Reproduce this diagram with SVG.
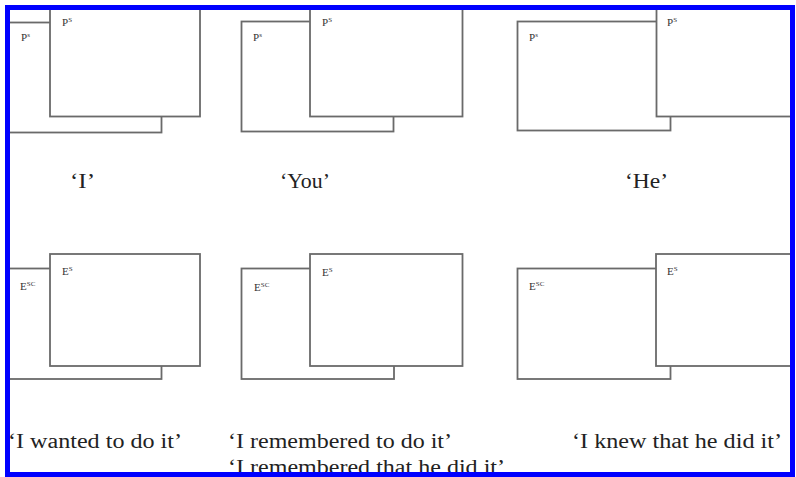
<svg xmlns="http://www.w3.org/2000/svg" width="796" height="477" viewBox="0 0 796 477">
  <style>
    .box { fill: #ffffff; stroke: #6a6a6a; stroke-width: 1.8; }
    .lbl { font-family: "Liberation Serif", serif; font-size: 11px; fill: #333; }
    .sup { font-size: 7px; }
    .cap { font-family: "Liberation Serif", serif; font-size: 20px; fill: #222; }
  </style>
  <defs>
    <clipPath id="inner">
      <rect x="10" y="10" width="780" height="462"/>
    </clipPath>
  </defs>
  <rect x="0" y="0" width="796" height="477" fill="#ffffff"/>

  <g clip-path="url(#inner)">
    <!-- top row: person frames -->
    <g id="panel-i">
      <rect class="box" x="-20" y="22.5" width="181.5" height="110"/>
      <text class="lbl" x="21" y="41">P<tspan class="sup" dy="-4">s</tspan></text>
      <rect class="box" x="50" y="-10" width="150" height="126.5"/>
      <text class="lbl" x="62" y="26">P<tspan class="sup" dy="-4">S</tspan></text>
    </g>
    <g id="panel-you">
      <rect class="box" x="241.5" y="21.5" width="152" height="110"/>
      <text class="lbl" x="253" y="41">P<tspan class="sup" dy="-4">s</tspan></text>
      <rect class="box" x="310" y="-10" width="152.5" height="126.5"/>
      <text class="lbl" x="322" y="26">P<tspan class="sup" dy="-4">S</tspan></text>
    </g>
    <g id="panel-he">
      <rect class="box" x="517.5" y="21.5" width="153" height="109"/>
      <text class="lbl" x="529" y="41">P<tspan class="sup" dy="-4">s</tspan></text>
      <rect class="box" x="656.5" y="-10" width="160" height="126.5"/>
      <text class="lbl" x="667" y="26">P<tspan class="sup" dy="-4">S</tspan></text>
    </g>

    <!-- bottom row: event frames -->
    <g id="panel-wanted">
      <rect class="box" x="-20" y="268.5" width="181.5" height="110.5"/>
      <text class="lbl" x="20" y="290">E<tspan class="sup" dy="-4">SC</tspan></text>
      <rect class="box" x="50" y="254" width="150" height="112"/>
      <text class="lbl" x="62" y="275">E<tspan class="sup" dy="-4">S</tspan></text>
    </g>
    <g id="panel-remembered">
      <rect class="box" x="241.5" y="268.5" width="152.5" height="110.5"/>
      <text class="lbl" x="254" y="291">E<tspan class="sup" dy="-4">SC</tspan></text>
      <rect class="box" x="310" y="254" width="152.5" height="112"/>
      <text class="lbl" x="322" y="276">E<tspan class="sup" dy="-4">S</tspan></text>
    </g>
    <g id="panel-knew">
      <rect class="box" x="517.5" y="268.5" width="153" height="110.5"/>
      <text class="lbl" x="529" y="290">E<tspan class="sup" dy="-4">SC</tspan></text>
      <rect class="box" x="656" y="254" width="160" height="112"/>
      <text class="lbl" x="667" y="275">E<tspan class="sup" dy="-4">S</tspan></text>
    </g>

    <!-- captions -->
    <text class="cap" x="70" y="188" textLength="25" lengthAdjust="spacingAndGlyphs">‘I’</text>
    <text class="cap" x="280" y="188" textLength="50" lengthAdjust="spacingAndGlyphs">‘You’</text>
    <text class="cap" x="625" y="188" textLength="43" lengthAdjust="spacingAndGlyphs">‘He’</text>
    <text class="cap" x="8" y="448" textLength="174" lengthAdjust="spacingAndGlyphs">‘I wanted to do it’</text>
    <text class="cap" x="228" y="448" textLength="224" lengthAdjust="spacingAndGlyphs">‘I remembered to do it’</text>
    <text class="cap" x="228" y="474" textLength="277" lengthAdjust="spacingAndGlyphs">‘I remembered that he did it’</text>
    <text class="cap" x="572" y="448" textLength="210" lengthAdjust="spacingAndGlyphs">‘I knew that he did it’</text>
  </g>

  <!-- outer frame -->
  <rect x="7.5" y="7.5" width="785" height="467" fill="none" stroke="#0000ff" stroke-width="5"/>
</svg>
